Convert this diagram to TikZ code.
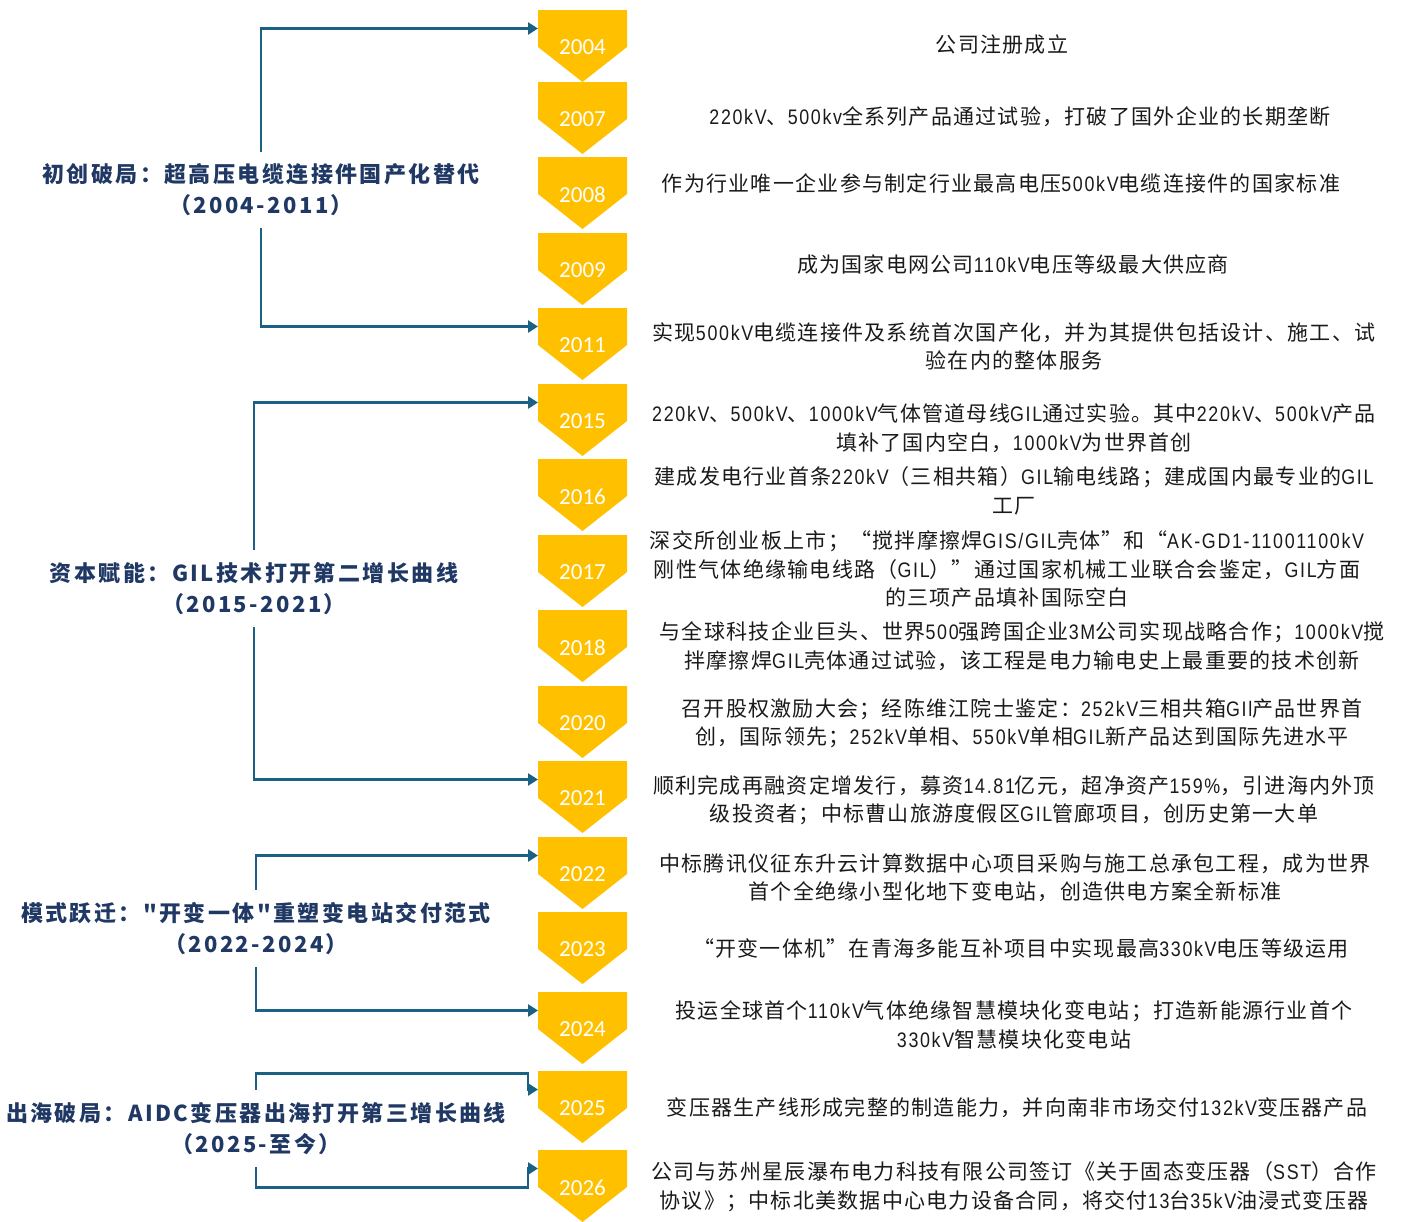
\documentclass[tikz,border=0pt]{standalone}
\usepackage{fontspec}
\setmainfont{Noto Sans CJK SC}
\newfontfamily\cjk[LetterSpace=6]{Noto Sans CJK SC}
\newfontfamily\cjkphase[LetterSpace=11]{Noto Sans CJK SC}
\newfontfamily\latf[FakeStretch=0.85,LetterSpace=8]{Liberation Sans}
\newfontfamily\yearfont{Carlito}
\newcommand\la[1]{{\latf #1}}
\usetikzlibrary{arrows.meta,calc}
\definecolor{chev}{HTML}{FFC000}
\definecolor{arrowc}{RGB}{27,96,133}
\definecolor{navy}{HTML}{203864}
\definecolor{bodytxt}{HTML}{1A1A1A}
\tikzset{
  desc/.style={align=center, text=bodytxt, font=\cjk\fontsize{21}{28.5}\selectfont, inner sep=0pt},
  phase/.style={align=center, text=navy, font=\cjkphase\bfseries\fontsize{22}{31}\selectfont, inner xsep=0pt, inner ysep=12pt},
  yr/.style={text=white, font=\yearfont\fontsize{23}{23}\selectfont, inner sep=0pt},
  link/.style={draw=arrowc, line width=2.4pt, -{Triangle[length=10pt,width=12pt]}},
}
\begin{document}
\begin{tikzpicture}[x=1pt,y=-1pt]
\useasboundingbox (0,0) rectangle (1404,1221);
\foreach \yy/\tp in {2004/10, 2007/82, 2008/157, 2009/233, 2011/308, 2015/384, 2016/459, 2017/535, 2018/610, 2020/686, 2021/761, 2022/837, 2023/912, 2024/992, 2025/1071, 2026/1150} {
  \fill[chev] (538,\tp) -- (627,\tp) -- (627,\tp+37) -- (582.5,\tp+72) -- (538,\tp+37) -- cycle;
  \node[yr] (y\yy) at (582.5,\tp+37.5) {\yy};
  \coordinate (c\yy) at (538,\tp+18.5);
}

% phase labels
\node[phase] (g1) at (261,190) {初创破局：超高压电缆连接件国产化替代\\（2004-2011）};
\node[phase] (g2) at (254,588.5) {资本赋能：GIL技术打开第二增长曲线\\（2015-2021）};
\node[phase] (g3) at (256,928.5) {模式跃迁："开变一体"重塑变电站交付范式\\（2022-2024）};
\node[phase] (g4) at (256,1128.5) {出海破局：AIDC变压器出海打开第三增长曲线\\（2025-至今）};

% connectors
\draw[link] (g1.north) |- (c2004);
\draw[link] (g1.south) |- (c2011);
\draw[link] (g2.north) |- (c2015);
\draw[link] (g2.south) |- (c2021);
\draw[link] (g3.north) |- (c2022);
\draw[link] (g3.south) |- (c2024);
\draw[link] (g4.north) |- ($(c2025)+(-10,-16)$) |- (c2025);
\draw[link] (g4.south) |- ($(c2026)+(-10,19)$) |- (c2026);

% descriptions
\node[desc] (t2004) at (1002,45) {公司注册成立};
\node[desc] (t2007) at (1020,117) {\la{220kV}、\la{500kv}全系列产品通过试验，打破了国外企业的长期垄断};
\node[desc] (t2008) at (1001,183) {作为行业唯一企业参与制定行业最高电压\la{500kV}电缆连接件的国家标准};
\node[desc] (t2009) at (1013,265) {成为国家电网公司\la{110kV}电压等级最大供应商};
\node[desc] (t2011) at (1014,346.5) {实现\la{500kV}电缆连接件及系统首次国产化，并为其提供包括设计、施工、试\\验在内的整体服务};
\node[desc] (t2015) at (1014,428) {\la{220kV}、\la{500kV}、\la{1000kV}气体管道母线\la{GIL}通过实验。其中\la{220kV}、\la{500kV}产品\\填补了国内空白，\la{1000kV}为世界首创};
\node[desc] (t2016) at (1014,491) {建成发电行业首条\la{220kV}（三相共箱）\la{GIL}输电线路；建成国内最专业的\la{GIL}\\工厂};
\node[desc] (t2017) at (1007,569) {深交所创业板上市；“搅拌摩擦焊\la{GIS/GIL}壳体”和“\la{AK-GD1-11001100kV}\\刚性气体绝缘输电线路（\la{GIL}）”通过国家机械工业联合会鉴定，\la{GIL}方面\\的三项产品填补国际空白};
\node[desc] (t2018) at (1022,646) {与全球科技企业巨头、世界\la{500}强跨国企业\la{3M}公司实现战略合作；\la{1000kV}搅\\拌摩擦焊\la{GIL}壳体通过试验，该工程是电力输电史上最重要的技术创新};
\node[desc] (t2020) at (1022,723.5) {召开股权激励大会；经陈维江院士鉴定：\la{252kV}三相共箱\la{GIl}产品世界首\\创，国际领先；\la{252kV}单相、\la{550kV}单相\la{GIL}新产品达到国际先进水平};
\node[desc] (t2021) at (1014,800.5) {顺利完成再融资定增发行，募资\la{14.81}亿元，超净资产\la{159\%}，引进海内外顶\\级投资者；中标曹山旅游度假区\la{GIL}管廊项目，创历史第一大单};
\node[desc] (t2022) at (1015,877.5) {中标腾讯仪征东升云计算数据中心项目采购与施工总承包工程，成为世界\\首个全绝缘小型化地下变电站，创造供电方案全新标准};
\node[desc] (t2023) at (1021,948) {“开变一体机”在青海多能互补项目中实现最高\la{330kV}电压等级运用};
\node[desc] (t2024) at (1014,1025) {投运全球首个\la{110kV}气体绝缘智慧模块化变电站；打造新能源行业首个\\\la{330kV}智慧模块化变电站};
\node[desc] (t2025) at (1017,1108) {变压器生产线形成完整的制造能力，并向南非市场交付\la{132kV}变压器产品};
\node[desc] (t2026) at (1014,1186.5) {公司与苏州星辰瀑布电力科技有限公司签订《关于固态变压器（\la{SST}）合作\\协议》；中标北美数据中心电力设备合同，将交付\la{13}台\la{35kV}油浸式变压器};
\end{tikzpicture}
\end{document}
